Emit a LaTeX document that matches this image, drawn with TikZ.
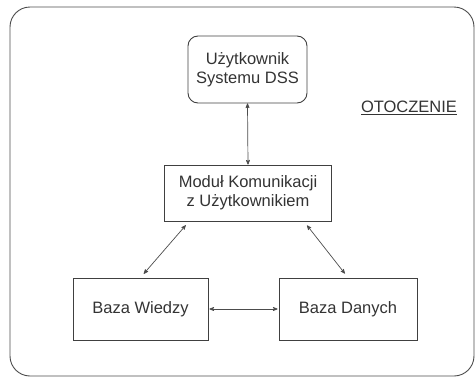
\documentclass[tikz,border=0pt]{standalone}
\usepackage{fontspec}
\setmainfont{Liberation Sans}
\usetikzlibrary{arrows, shapes, positioning}

\tikzset{
	blok/.style={draw=black!75, line width=0.9pt, minimum width=#1, inner sep=0pt, align=center, text=black!80},
	strz/.style={<->, >=stealth', draw=black!70, line width=0.7pt}
}

\begin{document}
\begin{tikzpicture}[x=1pt, y=-1pt, font=\fontsize{16.5}{19}\selectfont]

\useasboundingbox (0,0) rectangle (475,378);
\draw[black!70, line width=0.9pt, rounded corners=20pt] (10,7) rectangle (474,376);

\node[blok=119pt, minimum height=67pt, rounded corners=10pt] (uzytk) at (247.5,69.5) {Użytkownik\\Systemu DSS};
\node[blok=167pt, minimum height=56pt] (modul) at (248,193) {Moduł Komunikacji\\z Użytkownikiem};
\node[blok=135pt, minimum height=62pt] (wiedza) at (140.5,309) {Baza Wiedzy};
\node[blok=138pt, minimum height=62pt] (dane) at (348,309) {Baza Danych};

\node[text=black!80] (otocz) at (409,108) {\underline{OTOCZENIE}};

\draw[strz] (uzytk.south) -- (modul.north);
\draw[strz, shorten <=5pt, shorten >=5pt] ([xshift=25pt]modul.south west) -- (wiedza.north);
\draw[strz, shorten <=5pt, shorten >=5pt] ([xshift=-28pt]modul.south east) -- (dane.north);
\draw[strz, shorten <=1pt, shorten >=1pt] (wiedza.east) -- (dane.west);

\end{tikzpicture}
\end{document}
